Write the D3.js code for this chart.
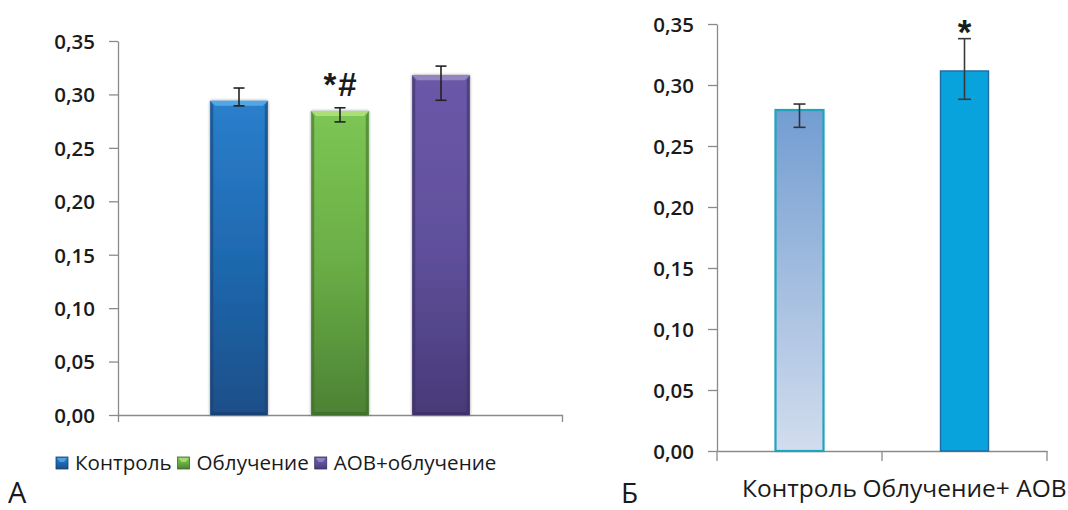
<!DOCTYPE html>
<html>
<head>
<meta charset="utf-8">
<script src="https://cdn.jsdelivr.net/npm/d3@7"></script>
<style>
  html, body { margin: 0; padding: 0; background: #fff; }
  svg { display: block; }
  text { font-family: "Liberation Sans", Arial, sans-serif; fill: #1a1a1a; }
</style>
</head>
<body>
<svg id="chart" width="1068" height="510"></svg>
<script>
// ---- Panel A: three groups, mean with asymmetric error whiskers ----
const groupsA = ["Контроль", "Облучение", "АОВ+облучение"];
const valuesA = [0.294, 0.2845, 0.318];
const errHighA = [0.306, 0.2875, 0.3265];
const errLowA  = [0.2893, 0.2743, 0.2945];
const marksA = ["", "*#", ""];

// ---- Panel B: two groups ----
const groupsB = ["Контроль", "Облучение+ АОВ"];
const valuesB = [0.2795, 0.3115];
const errHighB = [0.2844, 0.338];
const errLowB  = [0.2653, 0.2883];
const marksB = ["", "*"];

// shared y ticks
const yTicks = [0, 0.05, 0.10, 0.15, 0.20, 0.25, 0.30, 0.35];
const yTickLabels = ["0,00", "0,05", "0,10", "0,15", "0,20", "0,25", "0,30", "0,35"];

const svg = d3.select("#chart");
const defs = svg.append("defs");

const axisGray = "#8a8a8a";
const uiFont = "'Open Sans', 'Liberation Sans', sans-serif";

// bar palettes for panel A: [top, mid, bottom, bevel-light, edge-dark]
const paletteA = [
  ["#2a7fcb", "#1f69b0", "#1f4f88", "#5aaeea", "#173f6e"],
  ["#7cc654", "#6aae46", "#4c8234", "#b4e27c", "#3c6a28"],
  ["#6b58a8", "#60509c", "#473a78", "#9a8cc8", "#382d62"]
];

paletteA.forEach((p, i) => {
  const g = defs.append("linearGradient").attr("id", "gA" + i)
    .attr("x1", 0).attr("y1", 0).attr("x2", 0).attr("y2", 1);
  g.append("stop").attr("offset", "0%").attr("stop-color", p[0]);
  g.append("stop").attr("offset", "50%").attr("stop-color", p[1]);
  g.append("stop").attr("offset", "100%").attr("stop-color", p[2]);
});

const shadow = defs.append("filter").attr("id", "soft")
  .attr("x", "-20%").attr("y", "-5%").attr("width", "140%").attr("height", "110%");
shadow.append("feGaussianBlur").attr("in", "SourceAlpha").attr("stdDeviation", 1.6).attr("result", "b");
shadow.append("feComponentTransfer").attr("in", "b").attr("result", "s")
  .append("feFuncA").attr("type", "linear").attr("slope", 0.45);
const merge = shadow.append("feMerge");
merge.append("feMergeNode").attr("in", "s");
merge.append("feMergeNode").attr("in", "SourceGraphic");

const gradB0 = defs.append("linearGradient").attr("id", "gB0")
  .attr("x1", 0).attr("y1", 0).attr("x2", 0).attr("y2", 1);
gradB0.append("stop").attr("offset", "0%").attr("stop-color", "#739dd1");
gradB0.append("stop").attr("offset", "100%").attr("stop-color", "#d2ddee");

function fmt(v) { return yTickLabels[yTicks.findIndex(t => Math.abs(t - v) < 1e-9)]; }

function drawYAxis(g, y, x0) {
  const ax = d3.axisLeft(y).tickValues(yTicks).tickFormat(fmt).tickSize(9).tickSizeOuter(0).tickPadding(14);
  const a = g.append("g").attr("transform", `translate(${x0},0)`).call(ax);
  a.select(".domain").attr("stroke", axisGray).attr("stroke-width", 1.3);
  a.selectAll(".tick line").attr("stroke", axisGray).attr("stroke-width", 1.3);
  a.selectAll(".tick text")
    .attr("fill", "#1a1a1a")
    .style("font-family", uiFont)
    .style("font-weight", "600")
    .style("font-size", "20.5px")
    .attr("dy", "0.36em");
  return a;
}

function errorBar(g, cx, yHi, yLo, cap, color) {
  g.append("line").attr("x1", cx).attr("x2", cx).attr("y1", yHi).attr("y2", yLo)
    .attr("stroke", color).attr("stroke-width", 1.6);
  g.append("line").attr("x1", cx - cap / 2).attr("x2", cx + cap / 2).attr("y1", yHi).attr("y2", yHi)
    .attr("stroke", color).attr("stroke-width", 1.6);
  g.append("line").attr("x1", cx - cap / 2).attr("x2", cx + cap / 2).attr("y1", yLo).attr("y2", yLo)
    .attr("stroke", color).attr("stroke-width", 1.6);
}

// ================= Panel A =================
{
  const left = 118, right = 562, bottom = 415, top = 41;
  const y = d3.scaleLinear().domain([0, 0.35]).range([bottom, top]);
  const x = d3.scaleBand().domain(groupsA).range([left, right])
    .paddingInner(0.43).paddingOuter(0.913);
  const g = svg.append("g");

  drawYAxis(g, y, left);

  // category axis line with end ticks
  const cat = d3.scaleBand().domain(["all"]).range([left, right]);
  const xa = d3.axisBottom(cat).tickValues([]).tickSizeOuter(7);
  const xg = g.append("g").attr("transform", `translate(0,${bottom})`).call(xa);
  xg.select(".domain").attr("stroke", axisGray).attr("stroke-width", 1.3);

  const b = 5; // bevel depth
  groupsA.forEach((name, i) => {
    const x0 = x(name), w = x.bandwidth(), y0 = y(valuesA[i]), h = y(0) - y0;
    const p = paletteA[i];
    const bar = g.append("g").attr("filter", "url(#soft)");
    bar.append("rect").attr("x", x0).attr("y", y0).attr("width", w).attr("height", h)
      .attr("fill", `url(#gA${i})`);
    // top bevel
    bar.append("polygon")
      .attr("points", [[x0, y0], [x0 + w, y0], [x0 + w - b, y0 + b], [x0 + b, y0 + b]].map(d => d.join(",")).join(" "))
      .attr("fill", p[3]).attr("opacity", 0.85);
    // side edges
    bar.append("polygon")
      .attr("points", [[x0, y0], [x0 + b * 0.6, y0 + b], [x0 + b * 0.6, y0 + h - b * 0.6], [x0, y0 + h]].map(d => d.join(",")).join(" "))
      .attr("fill", p[4]).attr("opacity", 0.55);
    bar.append("polygon")
      .attr("points", [[x0 + w, y0], [x0 + w - b * 0.6, y0 + b], [x0 + w - b * 0.6, y0 + h - b * 0.6], [x0 + w, y0 + h]].map(d => d.join(",")).join(" "))
      .attr("fill", p[4]).attr("opacity", 0.55);
    // bottom edge
    bar.append("polygon")
      .attr("points", [[x0, y0 + h], [x0 + b * 0.6, y0 + h - b * 0.6], [x0 + w - b * 0.6, y0 + h - b * 0.6], [x0 + w, y0 + h]].map(d => d.join(",")).join(" "))
      .attr("fill", p[4]).attr("opacity", 0.7);

    const cx = x0 + w / 2;
    errorBar(g, cx, y(errHighA[i]), y(errLowA[i]), 11, "#222");

    if (marksA[i]) {
      g.append("text").attr("x", cx + 1).attr("y", y(errHighA[i]) - 12)
        .attr("text-anchor", "middle")
        .style("font-weight", "bold").style("font-size", "33px").style("letter-spacing", "2px")
        .attr("fill", "#1a1a1a")
        .text(marksA[i]);
    }
  });

  // legend
  const legend = g.append("g").attr("transform", "translate(56,470)");
  let lx = 0;
  groupsA.forEach((name, i) => {
    const item = legend.append("g").attr("transform", `translate(${lx},0)`);
    item.append("rect").attr("x", 0).attr("y", -13).attr("width", 12).attr("height", 12)
      .attr("fill", `url(#gA${i})`).attr("stroke", paletteA[i][4]).attr("stroke-width", 0.8);
    item.append("polygon").attr("points", "1,-12 11,-12 8,-8 4,-8").attr("fill", paletteA[i][3]).attr("opacity", 0.8);
    const t = item.append("text").attr("x", 19).attr("y", 0)
      .style("font-family", uiFont)
      .style("font-size", "20.6px").attr("fill", "#1a1a1a").text(name);
    lx += 19 + t.node().getComputedTextLength() + 6;
  });

  g.append("text").attr("x", 8).attr("y", 503)
    .style("font-family", uiFont)
    .style("font-size", "29px").attr("fill", "#1a1a1a").text("А");
}

// ================= Panel B =================
{
  const left = 717, right = 1047, bottom = 451, top = 24;
  const y = d3.scaleLinear().domain([0, 0.35]).range([bottom, top]);
  const x = d3.scaleBand().domain(groupsB).range([left, right])
    .paddingInner(0.709).paddingOuter(0.3545);
  const cat = d3.scaleBand().domain(groupsB).range([left, right]);
  const g = svg.append("g");

  drawYAxis(g, y, left);

  const xa = d3.axisBottom(cat).tickSize(0).tickSizeOuter(0).tickPadding(29);
  const xg = g.append("g").attr("transform", `translate(0,${bottom})`).call(xa);
  xg.select(".domain").attr("stroke", axisGray).attr("stroke-width", 1.3);
  xg.selectAll(".tick text")
    .style("font-family", uiFont)
    .style("font-size", "24.5px").attr("fill", "#1a1a1a");
  // boundary ticks between categories
  const bounds = [left].concat(groupsB.map(d => cat(d) + cat.bandwidth()));
  xg.selectAll(".bound").data(bounds).join("line").attr("class", "bound")
    .attr("x1", d => d).attr("x2", d => d).attr("y1", 0).attr("y2", 10)
    .attr("stroke", axisGray).attr("stroke-width", 1.3);

  const fills = ["url(#gB0)", "#08a3dc"];
  const strokes = ["#1ea4bf", "#1f6ca4"];
  const sw = [2.2, 1.4];
  groupsB.forEach((name, i) => {
    const x0 = x(name), w = x.bandwidth(), y0 = y(valuesB[i]), h = y(0) - y0;
    g.append("rect").attr("x", x0).attr("y", y0).attr("width", w).attr("height", h)
      .attr("fill", fills[i]).attr("stroke", strokes[i]).attr("stroke-width", sw[i]);
    const cx = x0 + w / 2;
    errorBar(g, cx, y(errHighB[i]), y(errLowB[i]), i === 0 ? 12 : 13, i === 0 ? "#333" : "#3a3a3a");
    if (marksB[i]) {
      g.append("text").attr("x", cx).attr("y", y(errHighB[i]) + 5)
        .attr("text-anchor", "middle")
        .style("font-weight", "bold").style("font-size", "35px")
        .attr("fill", "#1a1a1a").text(marksB[i]);
    }
  });

  g.append("text").attr("x", 621).attr("y", 503)
    .style("font-family", uiFont)
    .style("font-size", "28px").attr("fill", "#1a1a1a").text("Б");
}
</script>
</body>
</html>
